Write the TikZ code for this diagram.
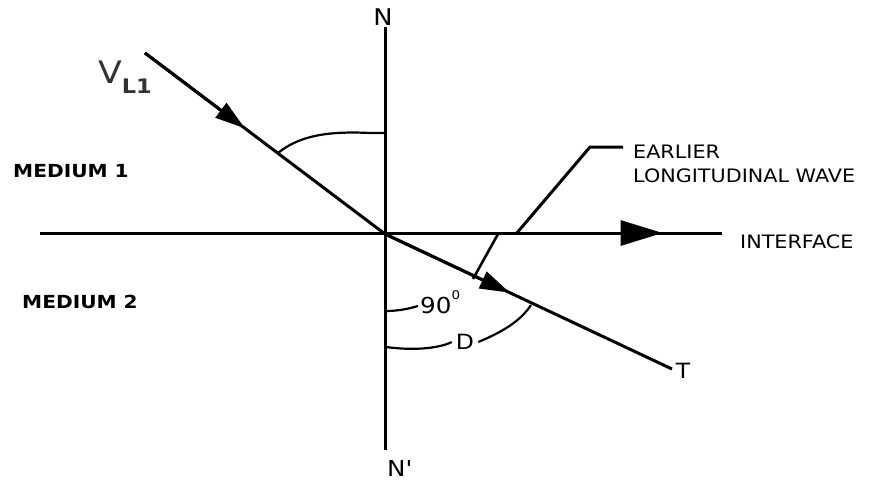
\documentclass[tikz,border=0pt]{standalone}
\usepackage{fontspec}
\setmainfont{DejaVu Sans}[FakeStretch=1.12]
\usetikzlibrary{arrows.meta, calc}

\begin{document}
\begin{tikzpicture}[x=1pt, y=-1pt, >={Triangle[length=30pt, width=18pt]},
  every node/.style={inner sep=0pt, text=black, font=\fontsize{18.5}{24}\selectfont},
  ray/.style={line width=3pt},
  arcline/.style={line width=2.2pt}]
  \useasboundingbox (0,0) rectangle (871,483);
  % rays and axes
  \coordinate (O) at (385,234);
  \coordinate (ntop) at (385,27);
  \coordinate (nbot) at (385,450);
  \coordinate (ifl) at (40,233);
  \coordinate (ifr) at (722,233);
  \coordinate (vsrc) at (145,53);
  \coordinate (tend) at (672,369);
  \draw[ray] (ntop) -- (nbot);
  \draw[ray] (ifl) -- (ifr);
  \draw[ray, -{Triangle[length=42pt, width=25pt]}] (ifl) -- ($(ifl)!0.913!(ifr)$);
  \draw[ray] (vsrc) -- (O);
  \draw[ray, ->] (vsrc) -- ($(vsrc)!0.416!(O)$);
  \draw[ray] (O) -- (tend);
  \draw[ray, ->] (O) -- ($(O)!0.435!(tend)$);
  % labels
  \node[font=\fontsize{23}{27}\selectfont] (nlab) at (383,17) {N};
  \node[font=\fontsize{22}{26}\selectfont, anchor=west] (nplab) at (387,468) {N\textquotesingle};
  \node[font=\fontsize{31}{35}\selectfont, text=black!80, anchor=base west] (vlab) at (98,83)
    {V\raisebox{-10pt}{\bfseries\fontsize{20}{24}\selectfont L1}};
  \node[font=\bfseries\fontsize{18}{22}\selectfont, anchor=west] (med1) at (13,171) {MEDIUM 1};
  \node[font=\bfseries\fontsize{18}{22}\selectfont, anchor=west] (med2) at (22,302) {MEDIUM 2};
  \node[anchor=west] (early) at (633,151.5) {EARLIER};
  \node[anchor=west] (longi) at (633,175.5) {LONGITUDINAL WAVE};
  \node[anchor=west] (iface) at (740,241.5) {INTERFACE};
  \node[font=\fontsize{21}{24}\selectfont] (tlab) at (683,371) {T};
  \node[font=\fontsize{22}{26}\selectfont, anchor=base west, inner sep=2pt] (ninety) at (418,313)
    {90\raisebox{14pt}{\fontsize{12}{14}\selectfont 0}};
  \node[font=\fontsize{21}{24}\selectfont, inner sep=4pt] (dlab) at (465,342) {D};
  % angle arcs
  \coordinate (a1) at (278,153);
  \coordinate (n1) at (385,133);
  \draw[arcline] (a1) .. controls (300,135) and (330,131) .. (370,133) -- (n1);
  \draw[arcline] (385,311) .. controls (398,311) and (408,309) .. (ninety.west |- 0,306);
  \draw[arcline] (386,347) .. controls (415,351) and (440,348) .. (dlab.west);
  \draw[arcline] (dlab.east) .. controls (500,333) and (520,322) .. (531,305);
  % earlier wave
  \coordinate (lk) at (590,147);
  \coordinate (le) at (623,147);
  \coordinate (lf) at (516,234);
  \draw[ray] (le) -- (lk) -- (lf);
  \draw[line width=2.6pt] (498,234) -- (473,279);
\end{tikzpicture}
\end{document}
